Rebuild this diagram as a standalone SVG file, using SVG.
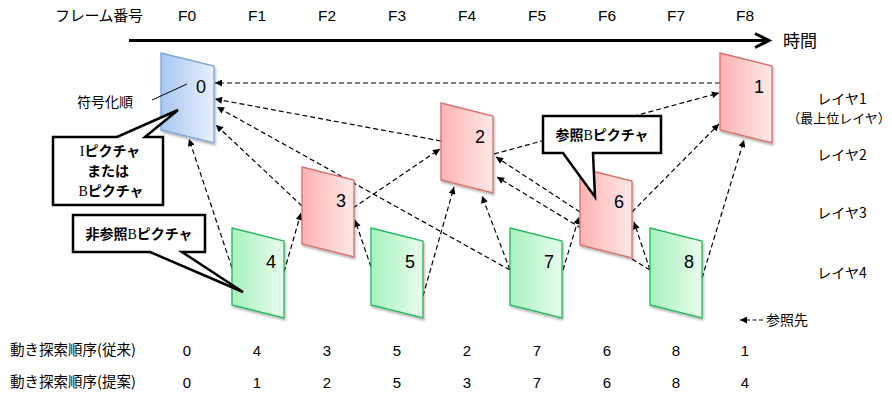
<svg xmlns="http://www.w3.org/2000/svg" width="892" height="394" viewBox="0 0 892 394">
<style>
.jp{font-family:"Noto Sans CJK JP","Noto Sans",sans-serif;fill:#000}
.num{font-family:"Liberation Sans",Arial,sans-serif;fill:#000}
.fl{font-family:"Liberation Sans",Arial,sans-serif;font-size:18px;text-anchor:middle}
.hd{font-size:15.5px;text-anchor:middle}
.bt{font-size:15px;text-anchor:middle}
.lay{font-size:14px;text-anchor:middle}
.cap{font-family:"Noto Sans CJK JP",sans-serif;font-weight:bold;font-size:14px;text-anchor:middle}
.ser{font-family:"Liberation Serif","Times New Roman",serif;font-weight:normal}
.dash{fill:none;stroke:#000;stroke-width:1.2;stroke-dasharray:5 3;marker-end:url(#ah)}
.call{fill:#fff;stroke:#000;stroke-width:2.5;stroke-linejoin:miter}
.fb{fill:url(#gb);stroke:#7ba6dc;stroke-width:1.3;filter:url(#sh)}
.fr{fill:url(#gr);stroke:#d8706c;stroke-width:1.3;filter:url(#sh)}
.fg{fill:url(#gg);stroke:#25b85c;stroke-width:1.3;filter:url(#sh)}
</style>
<defs>
<linearGradient id="gb" x1="0" y1="0" x2="1" y2="0"><stop offset="0" stop-color="#a8c7f1"/><stop offset="1" stop-color="#e8f0fc"/></linearGradient>
<linearGradient id="gr" x1="0" y1="0" x2="1" y2="0"><stop offset="0" stop-color="#ffb2b2"/><stop offset="1" stop-color="#ffe8e8"/></linearGradient>
<linearGradient id="gg" x1="0" y1="0" x2="1" y2="0"><stop offset="0" stop-color="#a6f2bc"/><stop offset="1" stop-color="#e8fcee"/></linearGradient>
<filter id="sh" x="-20%" y="-20%" width="140%" height="140%"><feDropShadow dx="1" dy="2" stdDeviation="1" flood-color="#000" flood-opacity="0.3"/></filter>
<marker id="ah" viewBox="0 0 10 10" refX="10" refY="5" markerWidth="8" markerHeight="7" markerUnits="userSpaceOnUse" orient="auto"><path d="M0,0 L10,5 L0,10 Z" fill="#000"/></marker>
</defs>

<!-- header -->
<g id="header">
<text class="jp" x="55" y="21" font-size="15" textLength="88">フレーム番号</text>
<text class="num hd" x="187" y="21">F0</text>
<text class="num hd" x="257" y="21">F1</text>
<text class="num hd" x="327" y="21">F2</text>
<text class="num hd" x="397" y="21">F3</text>
<text class="num hd" x="467" y="21">F4</text>
<text class="num hd" x="537" y="21">F5</text>
<text class="num hd" x="607" y="21">F6</text>
<text class="num hd" x="676" y="21">F7</text>
<text class="num hd" x="745" y="21">F8</text>
</g>
<g id="timeaxis">
<line x1="129" y1="40.5" x2="768" y2="40.5" stroke="#000" stroke-width="3"/>
<polyline points="755,33.5 769,40.5 755,47.5" fill="none" stroke="#000" stroke-width="3"/>
<text class="jp" x="783" y="47" font-size="17">時間</text>
</g>

<!-- connectors -->
<g id="connectors">
<line class="dash" x1="720" y1="83" x2="215" y2="83"/>
<line class="dash" x1="441" y1="141" x2="215" y2="99"/>
<line class="dash" x1="510" y1="270" x2="217" y2="107"/>
<line class="dash" x1="302" y1="206" x2="216" y2="125"/>
<line class="dash" x1="232" y1="268" x2="189" y2="139"/>
<line class="dash" x1="353" y1="208" x2="440" y2="149"/>
<line class="dash" x1="284" y1="272" x2="301" y2="213"/>
<line class="dash" x1="371" y1="267" x2="355" y2="220"/>
<line class="dash" x1="423" y1="296" x2="454" y2="187"/>
<line class="dash" x1="494" y1="154" x2="719" y2="93"/>
<line class="dash" x1="580" y1="212" x2="496" y2="157"/>
<line class="dash" x1="650" y1="270" x2="497" y2="177"/>
<line class="dash" x1="510" y1="270" x2="482" y2="196"/>
<line class="dash" x1="563" y1="270" x2="579" y2="217"/>
<line class="dash" x1="650" y1="270" x2="634" y2="222"/>
<line class="dash" x1="632" y1="212" x2="719" y2="124"/>
<line class="dash" x1="702" y1="278" x2="744" y2="140"/>
</g>

<!-- frames -->
<g id="f0"><polygon class="fb" points="161,53 214,66 214,143 161,130"/><text class="fl" x="201" y="93">0</text></g>
<g id="f4"><polygon class="fg" points="232,228 284,241 284,318 232,305"/><text class="fl" x="271" y="268">4</text></g>
<g id="f3"><polygon class="fr" points="302,167 354,180 354,257 302,244"/><text class="fl" x="341" y="207">3</text></g>
<g id="f5"><polygon class="fg" points="371,228 423,241 423,318 371,305"/><text class="fl" x="410" y="268">5</text></g>
<g id="f2"><polygon class="fr" points="441,103 493,116 493,193 441,180"/><text class="fl" x="480" y="143">2</text></g>
<g id="f7"><polygon class="fg" points="510,228 562,241 562,318 510,305"/><text class="fl" x="549" y="268">7</text></g>
<g id="f6"><polygon class="fr" points="580,168 632,181 632,258 580,245"/><text class="fl" x="619" y="208">6</text></g>
<g id="f8"><polygon class="fg" points="650,228 702,241 702,318 650,305"/><text class="fl" x="689" y="268">8</text></g>
<g id="f1"><polygon class="fr" points="720,53 772,66 772,143 720,130"/><text class="fl" x="759" y="93">1</text></g>

<!-- encode order label -->
<g id="encorder">
<text class="jp" x="77" y="107" font-size="14">符号化順</text>
<line x1="152" y1="100" x2="187" y2="84" stroke="#000" stroke-width="1"/>
</g>

<!-- callouts -->
<g id="callout1">
<path class="call" d="M53,137 L117,137 L178,110 L145,137 L163,137 L163,205 L53,205 Z"/>
<text class="cap" x="110" y="156"><tspan class="ser">I</tspan>ピクチャ</text>
<text class="cap" x="108" y="176">または</text>
<text class="cap" x="111" y="196"><tspan class="ser">B</tspan>ピクチャ</text>
</g>
<g id="callout2">
<path class="call" d="M73,215 L205,215 L205,252 L182,252 L243,292 L150,252 L73,252 Z"/>
<text class="cap" x="139" y="239">非参照<tspan class="ser">B</tspan>ピクチャ</text>
</g>
<g id="callout3">
<path class="call" d="M543,116 L661,116 L661,153 L593,153 L595,197 L563,153 L543,153 Z"/>
<text class="cap" x="602" y="140">参照<tspan class="ser">B</tspan>ピクチャ</text>
</g>

<!-- layer labels -->
<g id="layers">
<text class="jp lay" x="842" y="104">レイヤ1</text>
<text class="jp" x="839" y="123" font-size="13" text-anchor="middle">（最上位レイヤ）</text>
<text class="jp lay" x="842" y="160">レイヤ2</text>
<text class="jp lay" x="842" y="218">レイヤ3</text>
<text class="jp lay" x="842" y="278">レイヤ4</text>
</g>

<!-- legend -->
<g id="legend">
<line x1="763" y1="320" x2="740" y2="320" stroke="#000" stroke-width="1.2" stroke-dasharray="4 2.5" marker-end="url(#ah)"/>
<text class="jp" x="766" y="325" font-size="14">参照先</text>
</g>

<!-- bottom rows -->
<g id="row1">
<text class="jp" x="10" y="355" font-size="14.5">動き探索順序(従来)</text>
<text class="num bt" x="187" y="356">0</text>
<text class="num bt" x="257" y="356">4</text>
<text class="num bt" x="327" y="356">3</text>
<text class="num bt" x="397" y="356">5</text>
<text class="num bt" x="467" y="356">2</text>
<text class="num bt" x="537" y="356">7</text>
<text class="num bt" x="607" y="356">6</text>
<text class="num bt" x="676" y="356">8</text>
<text class="num bt" x="745" y="356">1</text>
</g>
<g id="row2">
<text class="jp" x="10" y="387" font-size="14.5">動き探索順序(提案)</text>
<text class="num bt" x="187" y="388">0</text>
<text class="num bt" x="257" y="388">1</text>
<text class="num bt" x="327" y="388">2</text>
<text class="num bt" x="397" y="388">5</text>
<text class="num bt" x="467" y="388">3</text>
<text class="num bt" x="537" y="388">7</text>
<text class="num bt" x="607" y="388">6</text>
<text class="num bt" x="676" y="388">8</text>
<text class="num bt" x="745" y="388">4</text>
</g>
</svg>
